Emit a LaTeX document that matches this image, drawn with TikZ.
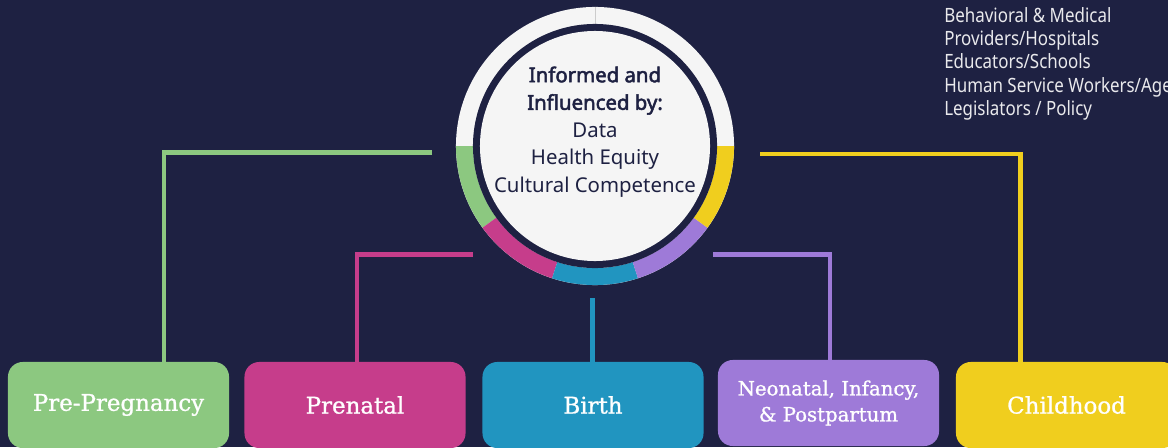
\documentclass[tikz,border=0pt]{standalone}
\usepackage{fontspec}
\setmainfont{DejaVu Serif}[BoldFont={DejaVu Serif}, BoldFeatures={FakeBold=1}]
\newfontfamily\hubfont{Noto Sans}[BoldFont={Noto Sans}, BoldFeatures={FakeBold=2.5}]
\newfontfamily\listfont[FakeStretch=0.86]{Noto Sans}
\usetikzlibrary{calc}

\definecolor{navy}{HTML}{1E2142}
\definecolor{paper}{HTML}{F5F5F5}
\definecolor{greenstage}{HTML}{8CC880}
\definecolor{pinkstage}{HTML}{C63D8B}
\definecolor{bluestage}{HTML}{2195C0}
\definecolor{purplestage}{HTML}{9E7AD8}
\definecolor{yellowstage}{HTML}{F0CE1E}

\tikzset{
  stage/.style={rounded corners=10.5pt, minimum width=5.525cm, minimum height=2.15cm,
    text=white, align=center, inner sep=0pt, font=\bfseries\fontsize{16.3}{18}\selectfont},
  link/.style={line width=2.9pt},
}

\newcommand{\ringpart}[3]{%
  \fill[#1] ($(c)+(#2:3.475cm)$) arc[start angle=#2, end angle=#3, radius=3.475cm]
    -- ($(c)+(#3:3.05cm)$) arc[start angle=#3, end angle=#2, radius=3.05cm] -- cycle;}

\begin{document}
\begin{tikzpicture}[x=0.025cm, y=-0.025cm]
    \useasboundingbox (0,0) rectangle (1168,447);
    \clip (0,0) rectangle (1168,447);
    \fill[navy] (0,0) rectangle (1168,447);

    % ring and hub
    \coordinate (c) at (595,146);
    \fill[paper] (c) circle (3.475cm);
    \ringpart{greenstage}{180}{216}
    \ringpart{pinkstage}{216}{252}
    \ringpart{bluestage}{252}{288}
    \ringpart{purplestage}{288}{324}
    \ringpart{yellowstage}{324}{360}
    \draw[gray!40, line width=0.5pt] (595,7) -- (595,24);
    \fill[navy] (c) circle (3.05cm);
    \fill[paper] (c) circle (2.875cm);
    \node[text=navy, align=center, font=\hubfont\fontsize{14.5}{19.6}\selectfont] (info) at (595,132)
      {\textbf{Informed and}\\ \textbf{Influenced by:}\\ Data\\ Health Equity\\ Cultural Competence};

    \node[anchor=north west, inner sep=0pt, align=left, text=white!90!navy,
      font=\listfont\fontsize{14}{16.6}\selectfont] (roles) at (944,7)
      {Behavioral \& Medical\\ Providers/Hospitals\\ Educators/Schools\\ Human Service Workers/Agencies\\ Legislators / Policy};

    % stages
    \node[stage, fill=greenstage] (pre) at (118.5,405) {Pre-Pregnancy};
    \node[stage, fill=pinkstage] (prenatal) at (355,405) {Prenatal};
    \node[stage, fill=bluestage] (birth) at (593,405) {Birth};
    \node[stage, fill=purplestage, font=\bfseries\fontsize{14}{18.5}\selectfont] (neo) at (828.5,403)
      {Neonatal, Infancy,\\ \& Postpartum};
    \node[stage, fill=yellowstage] (child) at (1066.5,405) {Childhood};

    % links from the ring
    \coordinate (gs) at (432,152.5);
    \coordinate (gc) at (164,152.5);
    \coordinate (ps) at (473,254.5);
    \coordinate (pc) at (357,254.5);
    \coordinate (bs) at (592.5,298);
    \coordinate (vs) at (713,254.5);
    \coordinate (vc) at (830,254.5);
    \coordinate (ys) at (760,154);
    \coordinate (yc) at (1020.5,154);
    \draw[link, greenstage] (gs) -- (gc) -- (gc |- pre.north);
    \draw[link, pinkstage] (ps) -- (pc) -- (pc |- prenatal.north);
    \draw[link, bluestage] (bs) -- (bs |- birth.north);
    \draw[link, purplestage] (vs) -- (vc) -- (vc |- neo.north);
    \draw[link, yellowstage] (ys) -- (yc) -- (yc |- child.north);
\end{tikzpicture}
\end{document}
